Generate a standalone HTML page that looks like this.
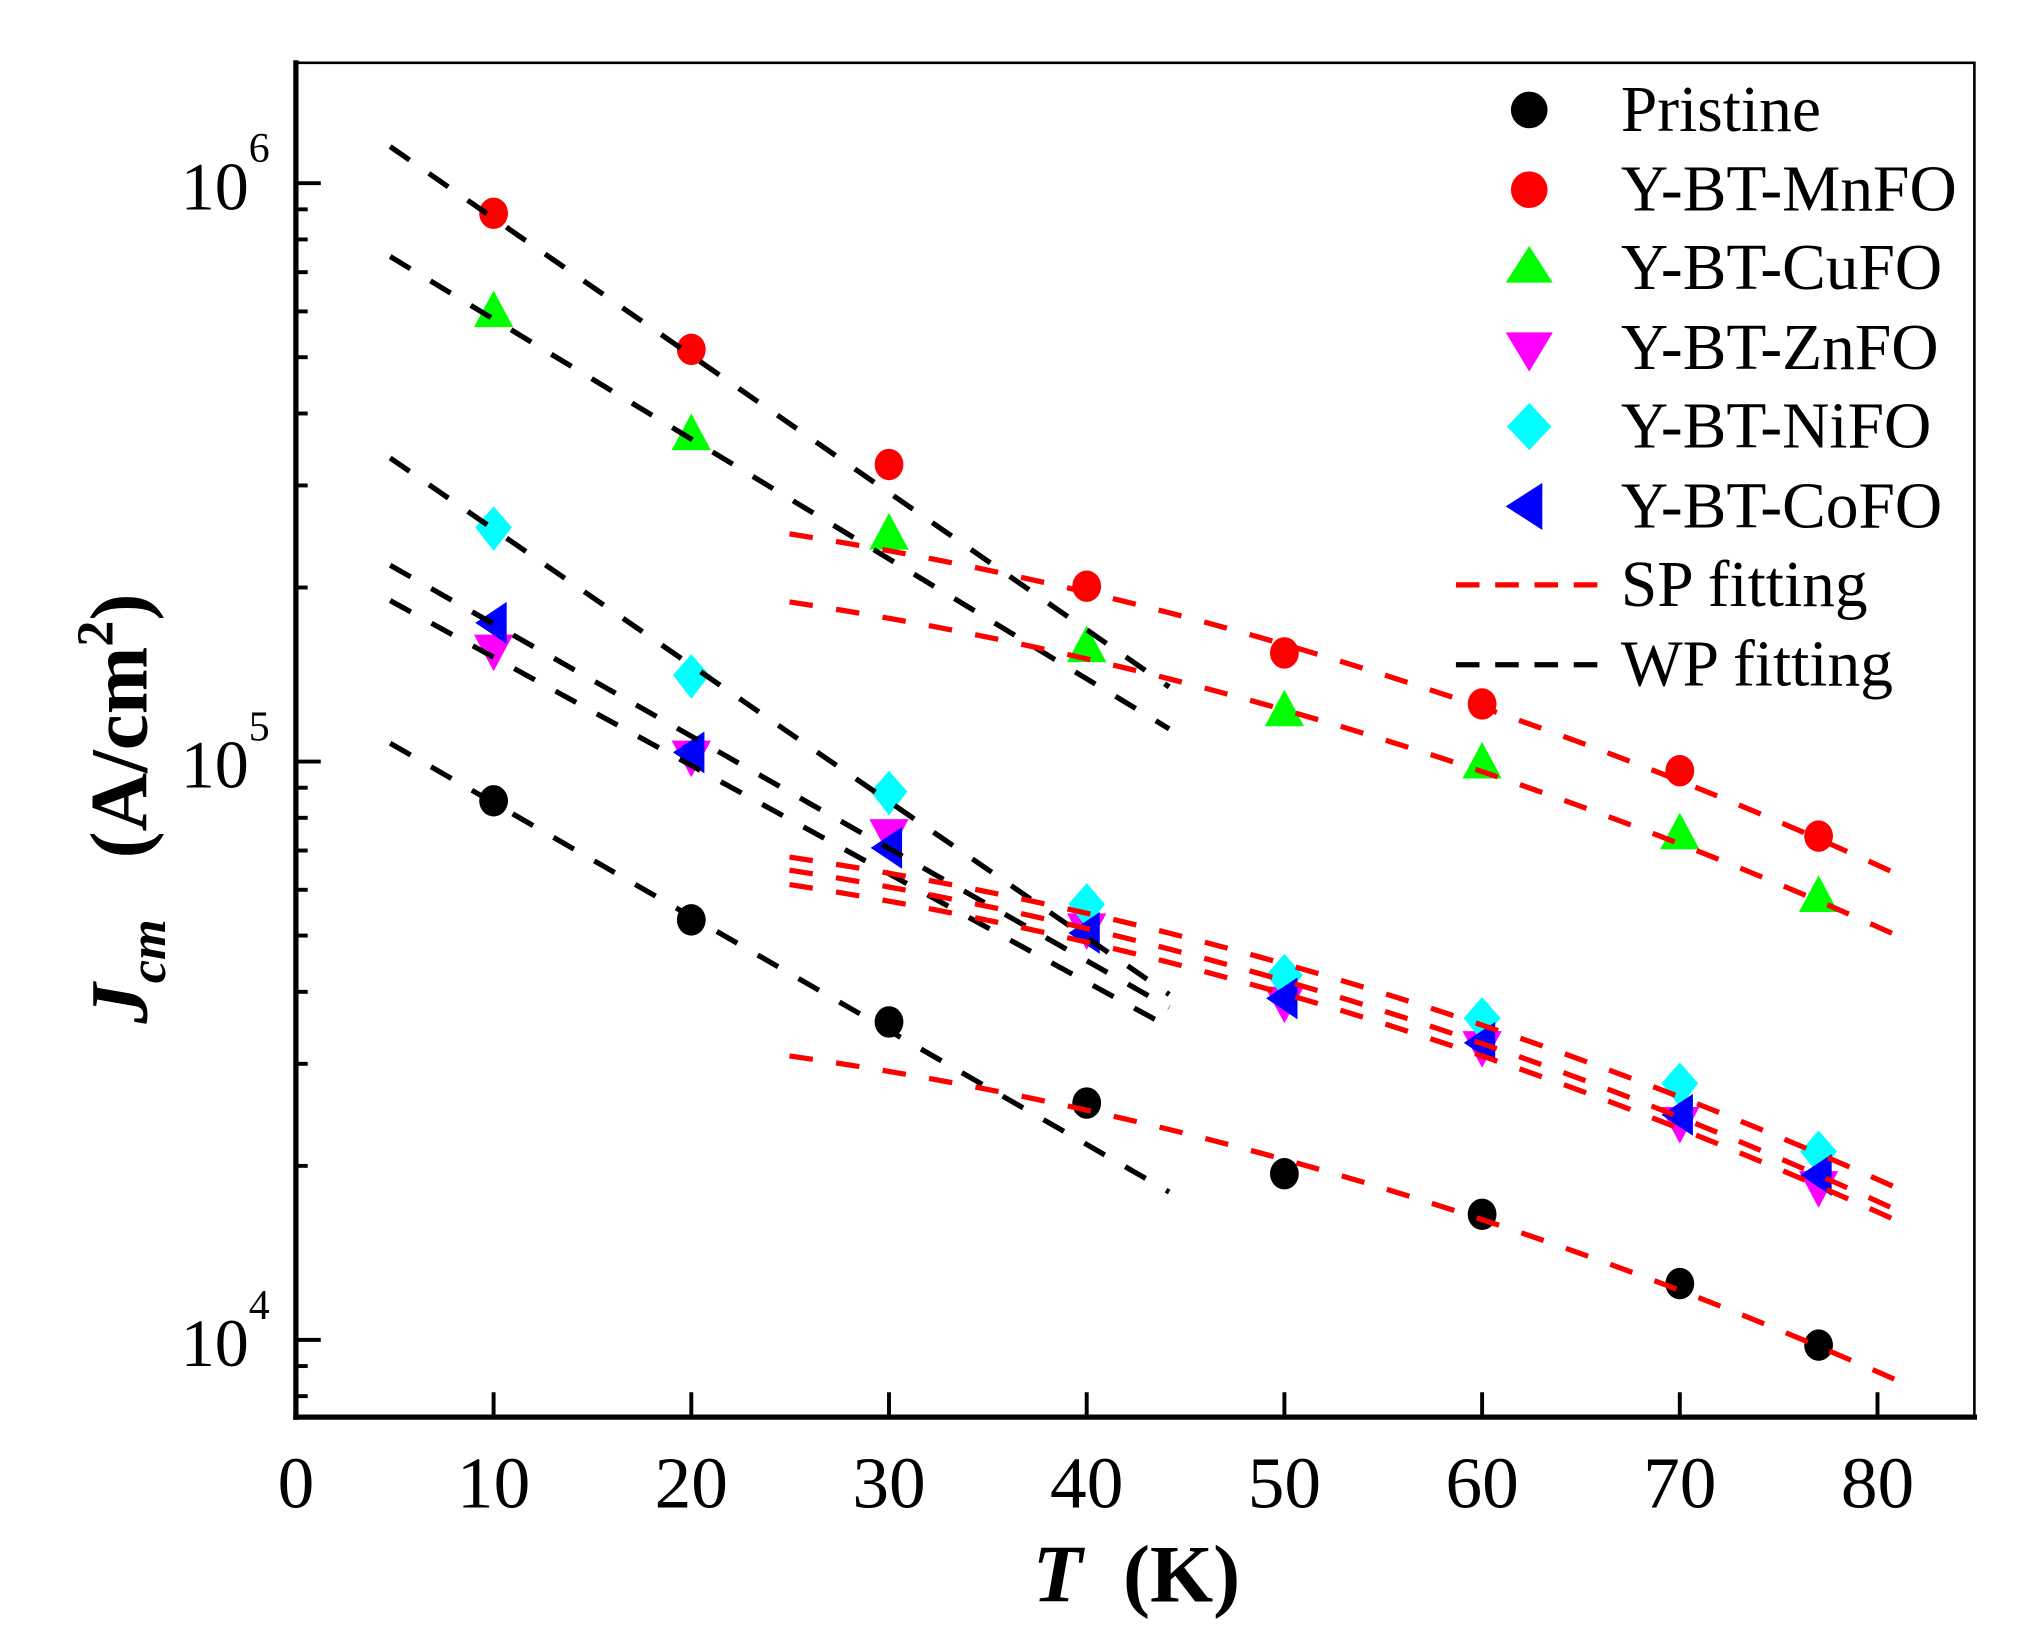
<!DOCTYPE html>
<html><head><meta charset="utf-8"><style>html,body{margin:0;padding:0;background:#fff}svg{display:block}</style></head>
<body>
<svg width="2032" height="1633" viewBox="0 0 1552 1248" preserveAspectRatio="none" xmlns="http://www.w3.org/2000/svg" font-family="Liberation Serif, serif">
<rect width="1552" height="1248" fill="#fff"/>
<g fill="#000">
<ellipse cx="377" cy="612" rx="11" ry="12"/><ellipse cx="528" cy="703" rx="11" ry="12"/><ellipse cx="679" cy="781" rx="11" ry="12"/><ellipse cx="830" cy="843" rx="11" ry="12"/><ellipse cx="981" cy="897" rx="11" ry="12"/><ellipse cx="1132" cy="928" rx="11" ry="12"/><ellipse cx="1283" cy="981" rx="11" ry="12"/><ellipse cx="1389" cy="1028" rx="11" ry="12"/>
</g>
<g fill="#f00">
<ellipse cx="377" cy="163" rx="11" ry="12"/><ellipse cx="528" cy="267" rx="11" ry="12"/><ellipse cx="679" cy="355" rx="11" ry="12"/><ellipse cx="830" cy="448" rx="11" ry="12"/><ellipse cx="981" cy="499" rx="11" ry="12"/><ellipse cx="1132" cy="538" rx="11" ry="12"/><ellipse cx="1283" cy="589" rx="11" ry="12"/><ellipse cx="1389" cy="639" rx="11" ry="12"/>
</g>
<g fill="#0f0">
<polygon points="362,250 377,222 392,250"/><polygon points="513,344 528,316 543,344"/><polygon points="664,420 679,392 694,420"/><polygon points="815,506 830,478 845,506"/><polygon points="966,555 981,527 996,555"/><polygon points="1117,595 1132,567 1147,595"/><polygon points="1268,649 1283,621 1298,649"/><polygon points="1374,697 1389,669 1404,697"/>
</g>
<g fill="#f0f">
<polygon points="362,485 377,513 392,485"/><polygon points="513,566 528,594 543,566"/><polygon points="664,626 679,654 694,626"/><polygon points="815,698 830,726 845,698"/><polygon points="966,754 981,782 996,754"/><polygon points="1117,788 1132,816 1147,788"/><polygon points="1268,846 1283,874 1298,846"/><polygon points="1374,895 1389,923 1404,895"/>
</g>
<g fill="#0ff">
<polygon points="377,387 391,403 377,421 363,403"/><polygon points="528,500 542,516 528,534 514,516"/><polygon points="679,589 693,605 679,623 665,605"/><polygon points="830,675 844,691 830,709 816,691"/><polygon points="981,729 995,745 981,763 967,745"/><polygon points="1132,762 1146,778 1132,796 1118,778"/><polygon points="1283,812 1297,828 1283,846 1269,828"/><polygon points="1389,864 1403,880 1389,898 1375,880"/>
</g>
<g fill="#00f">
<polygon points="363,476 387,460 387,492"/><polygon points="514,575 538,559 538,591"/><polygon points="665,648 689,632 689,664"/><polygon points="816,713 840,697 840,729"/><polygon points="967,763 991,747 991,779"/><polygon points="1118,797 1142,781 1142,813"/><polygon points="1269,852 1293,836 1293,868"/><polygon points="1375,898 1399,882 1399,914"/>
</g>
<g stroke="#000" stroke-width="4" stroke-dasharray="18 18" fill="none">
<line x1="298" y1="112" x2="893" y2="525"/>
<line x1="298" y1="196" x2="893" y2="557"/>
<line x1="298" y1="350" x2="893" y2="760"/>
<line x1="298" y1="432" x2="893" y2="770"/>
<line x1="298" y1="459" x2="893" y2="785"/>
<line x1="298" y1="568" x2="893" y2="911"/>
</g>
<g stroke="#f00" stroke-width="4" stroke-dasharray="18 18" fill="none">
<path d="M603,408 Q1026,474 1449,668"/>
<path d="M603,460 Q1026,524 1449,715"/>
<path d="M603,655 Q1026,718 1449,908"/>
<path d="M603,665 Q1026,731 1449,925"/>
<path d="M603,676 Q1026,741 1449,933"/>
<path d="M603,807 Q1026,867 1449,1055"/>
</g>
<rect x="226" y="48" width="1282" height="1035" fill="none" stroke="#000" stroke-width="2"/>
<line x1="226" y1="46" x2="226" y2="1085" stroke="#000" stroke-width="4"/>
<line x1="224" y1="1083" x2="1510" y2="1083" stroke="#000" stroke-width="4"/>
<g stroke="#000" stroke-width="3">
<line x1="226" y1="140" x2="245" y2="140"/><line x1="226" y1="582" x2="245" y2="582"/><line x1="226" y1="1024" x2="245" y2="1024"/>
<line x1="226" y1="160" x2="235" y2="160"/><line x1="226" y1="183" x2="235" y2="183"/><line x1="226" y1="208" x2="235" y2="208"/><line x1="226" y1="238" x2="235" y2="238"/><line x1="226" y1="273" x2="235" y2="273"/><line x1="226" y1="316" x2="235" y2="316"/><line x1="226" y1="371" x2="235" y2="371"/><line x1="226" y1="449" x2="235" y2="449"/>
<line x1="226" y1="602" x2="235" y2="602"/><line x1="226" y1="625" x2="235" y2="625"/><line x1="226" y1="650" x2="235" y2="650"/><line x1="226" y1="680" x2="235" y2="680"/><line x1="226" y1="715" x2="235" y2="715"/><line x1="226" y1="758" x2="235" y2="758"/><line x1="226" y1="813" x2="235" y2="813"/><line x1="226" y1="891" x2="235" y2="891"/>
<line x1="226" y1="1044" x2="235" y2="1044"/><line x1="226" y1="1067" x2="235" y2="1067"/>
<line x1="377" y1="1083" x2="377" y2="1064"/><line x1="528" y1="1083" x2="528" y2="1064"/><line x1="679" y1="1083" x2="679" y2="1064"/><line x1="830" y1="1083" x2="830" y2="1064"/><line x1="981" y1="1083" x2="981" y2="1064"/><line x1="1132" y1="1083" x2="1132" y2="1064"/><line x1="1283" y1="1083" x2="1283" y2="1064"/><line x1="1434" y1="1083" x2="1434" y2="1064"/>
</g>
<g font-size="56" text-anchor="middle" fill="#000">
<text x="226" y="1152">0</text><text x="377" y="1152">10</text><text x="528" y="1152">20</text><text x="679" y="1152">30</text><text x="830" y="1152">40</text><text x="981" y="1152">50</text><text x="1132" y="1152">60</text><text x="1283" y="1152">70</text><text x="1434" y="1152">80</text>
</g>
<g font-size="52" fill="#000" text-anchor="end">
<text x="190" y="160">10</text><text x="190" y="602">10</text><text x="190" y="1044">10</text>
</g>
<g font-size="32" fill="#000">
<text x="190" y="124">6</text><text x="190" y="566">5</text><text x="190" y="1008">4</text>
</g>
<text x="868" y="1224" font-size="62" font-weight="bold" text-anchor="middle" fill="#000" xml:space="preserve"><tspan font-style="italic">T</tspan>  (K)</text>
<g transform="translate(112,618) rotate(-90)">
<text x="0" y="0" font-size="62" font-weight="bold" text-anchor="middle" fill="#000" xml:space="preserve"><tspan font-style="italic">J</tspan><tspan font-style="italic" font-size="40" dy="14">cm</tspan><tspan dy="-14">   (A/cm</tspan><tspan font-size="40" dy="-26">2</tspan><tspan dy="26">)</tspan></text>
</g>
<ellipse cx="1168" cy="84" rx="14" ry="14" fill="#000"/>
<ellipse cx="1168" cy="145" rx="14" ry="14" fill="#f00"/>
<polygon points="1150,216 1168,188 1186,216" fill="#0f0"/>
<polygon points="1150,254 1168,284 1186,254" fill="#f0f"/>
<polygon points="1168,308 1185,326 1168,344 1151,326" fill="#0ff"/>
<polygon points="1150,387 1178,369 1178,405" fill="#00f"/>
<line x1="1112" y1="447" x2="1225" y2="447" stroke="#f00" stroke-width="4" stroke-dasharray="18 12"/>
<line x1="1112" y1="508" x2="1225" y2="508" stroke="#000" stroke-width="4" stroke-dasharray="18 12"/>
<g font-size="50" fill="#000">
<text x="1238" y="100">Pristine</text>
<text x="1238" y="161">Y-BT-MnFO</text>
<text x="1238" y="221">Y-BT-CuFO</text>
<text x="1238" y="282">Y-BT-ZnFO</text>
<text x="1238" y="342">Y-BT-NiFO</text>
<text x="1238" y="403">Y-BT-CoFO</text>
<text x="1238" y="463">SP fitting</text>
<text x="1238" y="524">WP fitting</text>
</g>
</svg>
</body></html>
